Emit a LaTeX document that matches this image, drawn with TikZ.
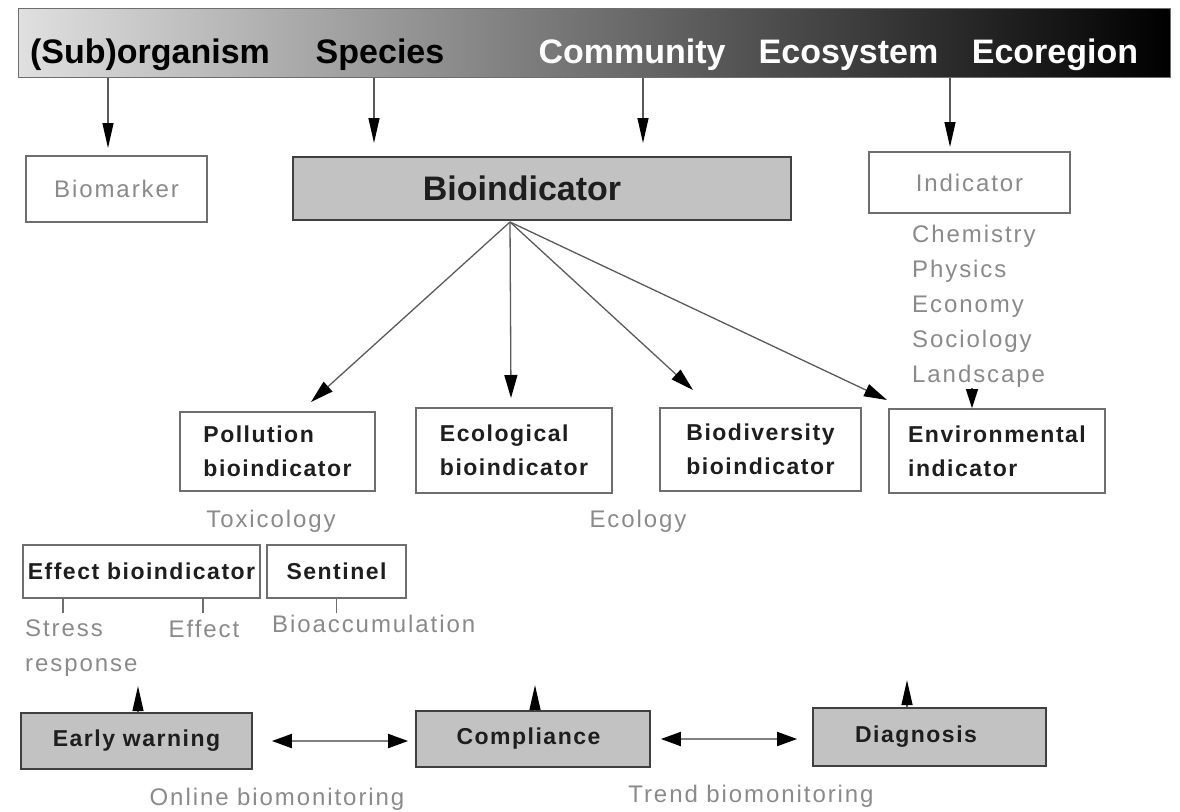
\documentclass[tikz,border=0pt]{standalone}
\usepackage{fontspec}
\setmainfont{Liberation Sans}
\newfontfamily\notefont[LetterSpace=8]{Liberation Sans}
\newfontfamily\labelfont[LetterSpace=6.5]{Liberation Sans}
\usetikzlibrary{arrows.meta,positioning,calc}
\definecolor{Frame}{HTML}{6E6E6E}
\definecolor{Fog}{HTML}{8A8A8A}
\definecolor{Box}{HTML}{C2C2C2}
\definecolor{BarLight}{HTML}{E0E0E0}
\definecolor{Ink}{HTML}{1E1E1E}
\definecolor{Shaft}{HTML}{5A5A5A}
\tikzset{
  level/.style={font=\fontsize{34}{38}\selectfont\bfseries,inner sep=0pt,anchor=base},
  plain/.style={draw=Frame,line width=1.6pt,fill=white,inner sep=0pt},
  kind/.style={plain,align=left,text=Ink,font=\labelfont\fontsize{23}{34}\selectfont\bfseries},
  grey/.style={draw=black!75,line width=1.8pt,fill=Box,inner sep=0pt,text=Ink,
    font=\labelfont\fontsize{23}{28}\selectfont\bfseries},
  note/.style={text=Fog,font=\notefont\fontsize{24}{35}\selectfont,inner sep=0pt},
  arrow/.style={-{Triangle[length=25pt,width=11pt,color=black]},line width=1.3pt,draw=Shaft},
  fan/.style={-{Triangle[length=23pt,width=13pt,color=black]},line width=1.3pt,draw=Shaft},
  twoway/.style={{Triangle[length=20pt,width=14pt,color=black]}-{Triangle[length=20pt,width=14pt,color=black]},
    line width=2pt,draw=black!50},
  tick/.style={line width=1.3pt,draw=Frame}
}

\begin{document}
\begin{tikzpicture}[x=1pt,y=-1pt]
  \useasboundingbox (0,0) rectangle (1180,811);

  % scale of organisation
  \node[draw=Frame,line width=1pt,minimum width=1152pt,minimum height=69pt,inner sep=0pt,
    left color=BarLight,middle color=black!52,right color=black] (bar) at (594,42.5) {};
  \node[level] (sub) at (150,63) {(Sub)organism};
  \node[level] (species) at (380,63) {Species};
  \node[level,text=white] (community) at (632,63) {Community};
  \node[level,text=white] (ecosystem) at (848.5,63) {Ecosystem};
  \node[level,text=white] (ecoregion) at (1055,63) {Ecoregion};

  % first row
  \node[plain,note,minimum width=181pt,minimum height=66pt] (biomarker) at (116.5,189) {Biomarker};
  \node[grey,minimum width=498pt,minimum height=63pt,
    font=\fontsize{34}{38}\selectfont\bfseries] (bioind) at (542,188.5) {\hspace*{-40pt}Bioindicator};
  \node[plain,note,minimum width=201pt,minimum height=61pt] (indicator) at (969.5,182.5) {Indicator};
  \node[note,anchor=north west,align=left] (fields) at (912,224.5)
    {Chemistry\\Physics\\Economy\\Sociology\\Landscape};

  \coordinate (tipA) at (108,148);
  \coordinate (tipB) at (374,143);
  \coordinate (tipC) at (643,143);
  \coordinate (tipD) at (950,147);
  \foreach \t in {tipA,tipB,tipC,tipD}
    \draw[arrow] (bar.south -| \t) -- (\t);

  % kinds of bioindicator
  \node[kind,minimum width=195pt,minimum height=79pt] (pollution) at (277.5,451.5) {Pollution\\bioindicator};
  \node[kind,minimum width=196pt,minimum height=85pt] (ecological) at (514,450.5) {Ecological\\bioindicator};
  \node[kind,minimum width=201pt,minimum height=83pt] (biodiv) at (760.5,449.5) {Biodiversity\\bioindicator};
  \node[kind,minimum width=216pt,minimum height=84pt] (environ) at (997,451) {Environmental\\indicator};

  \coordinate (hub) at (510,222);
  \coordinate (tipP) at (311,402);
  \coordinate (tipE) at (511,398);
  \coordinate (tipB2) at (693,390);
  \coordinate (tipV) at (887,400);
  \foreach \t in {tipP,tipE,tipB2,tipV}
    \draw[fan] (hub) -- (\t);
  \coordinate (land) at (972,388);
  \draw[-{Triangle[length=19pt,width=12pt,color=black]},line width=1.3pt,draw=Shaft]
    (land) -- (land |- environ.north);

  \node[note,anchor=base] (toxicology) at (271,527) {Toxicology};
  \node[note,anchor=base] (ecology) at (638,527) {Ecology};

  % pollution branch
  \node[plain,text=Ink,font=\labelfont\fontsize{23}{28}\selectfont\bfseries,
    minimum width=237pt,minimum height=53pt] (effect) at (141.5,571.5) {Effect bioindicator};
  \node[plain,text=Ink,font=\labelfont\fontsize{23}{28}\selectfont\bfseries,
    minimum width=139pt,minimum height=53pt] (sentinel) at (336.5,571.5) {Sentinel};
  \draw[tick] ([xshift=-78.5pt]effect.south) -- ++(0,14);
  \draw[tick] ([xshift=61.5pt]effect.south) -- ++(0,14);
  \draw[tick] (sentinel.south) -- ++(0,14);
  \node[note,anchor=north west,align=left] (stress) at (25,620) {Stress\\response};
  \node[note,anchor=base] (effectnote) at (204,637) {Effect};
  \node[note,anchor=base west] (accum) at (272,632) {Bioaccumulation};

  % purposes of monitoring
  \node[grey,minimum width=231pt,minimum height=56pt] (early) at (136.5,741) {Early warning};
  \node[grey,minimum width=234pt,minimum height=56pt] (compliance) at (533,739) {\hspace*{-9pt}Compliance};
  \node[grey,minimum width=233pt,minimum height=58pt] (diagnosis) at (929.5,737) {\hspace*{-27pt}Diagnosis};
  \draw[arrow] ([xshift=1.5pt]early.north) -- ++(0,-26);
  \draw[arrow] ([xshift=2pt]compliance.north) -- ++(0,-25);
  \draw[arrow] ([xshift=-22.5pt]diagnosis.north) -- ++(0,-27);
  \draw[twoway] ([xshift=19pt]early.east) -- ([xshift=-7pt]early.east -| compliance.west);
  \draw[twoway] ([xshift=10pt]compliance.east) -- ([xshift=-15pt]compliance.east -| diagnosis.west);
  \node[note,anchor=base] (online) at (277,805) {Online biomonitoring};
  \node[note,anchor=base] (trend) at (751,802) {Trend biomonitoring};
\end{tikzpicture}
\end{document}
